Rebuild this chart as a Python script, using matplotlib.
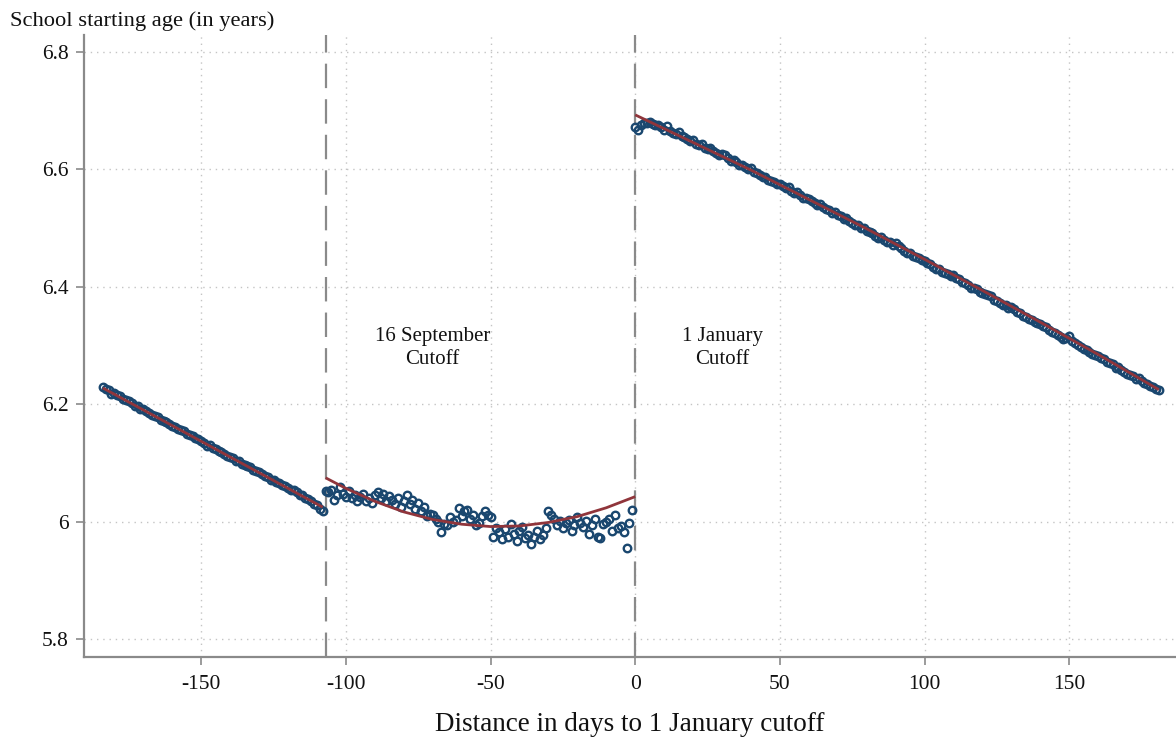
import numpy as np
import matplotlib.pyplot as plt

# ---------------- data ----------------
# Segment 1: births before the 16 September cutoff (days -184 .. -108)
seg1_first_day = -184
seg1_age = [
    6.229, 6.226, 6.224, 6.217, 6.219, 6.216, 6.214, 6.209, 6.208, 6.205,
    6.202, 6.198, 6.197, 6.193, 6.192, 6.188, 6.186, 6.182, 6.180, 6.178,
    6.174, 6.171, 6.170, 6.166, 6.164, 6.161, 6.158, 6.156, 6.154, 6.150,
    6.148, 6.146, 6.142, 6.141, 6.137, 6.134, 6.130, 6.131, 6.126, 6.124,
    6.121, 6.119, 6.115, 6.112, 6.111, 6.108, 6.103, 6.104, 6.099, 6.097,
    6.095, 6.094, 6.089, 6.086, 6.085, 6.081, 6.078, 6.077, 6.072, 6.072,
    6.068, 6.066, 6.063, 6.061, 6.057, 6.054, 6.054, 6.050, 6.046, 6.046,
    6.041, 6.039, 6.035, 6.031, 6.028, 6.022, 6.018,
]
# Segment 2: between 16 September and 1 January (days -107 .. -1)
seg2_first_day = -107
seg2_age = [
    6.052, 6.050, 6.055, 6.038, 6.046, 6.060, 6.048, 6.042, 6.052, 6.040,
    6.046, 6.035, 6.042, 6.048, 6.036, 6.040, 6.032, 6.045, 6.050, 6.041,
    6.048, 6.035, 6.044, 6.038, 6.030, 6.040, 6.026, 6.036, 6.045, 6.030,
    6.037, 6.022, 6.032, 6.018, 6.025, 6.010, 6.013, 6.012, 6.005, 6.000,
    5.983, 5.996, 5.994, 6.008, 6.000, 6.004, 6.024, 6.010, 6.018, 6.020,
    6.005, 6.012, 5.995, 5.998, 6.010, 6.018, 6.012, 6.008, 5.975, 5.990,
    5.982, 5.970, 5.988, 5.975, 5.996, 5.980, 5.968, 5.985, 5.992, 5.972,
    5.978, 5.963, 5.975, 5.985, 5.970, 5.978, 5.990, 6.018, 6.012, 6.005,
    5.995, 6.002, 5.990, 5.998, 6.004, 5.985, 5.995, 6.008, 5.998, 5.992,
    6.002, 5.980, 5.995, 6.005, 5.975, 5.973, 5.996, 6.000, 6.005, 5.985,
    6.012, 5.990, 5.993, 5.982, 5.955, 5.998, 6.020,
]
# Segment 3: after the 1 January cutoff (days 0 .. 181)
seg3_first_day = 0
seg3_age = [
    6.672, 6.668, 6.676, 6.680, 6.679, 6.681, 6.677, 6.675, 6.676, 6.672,
    6.668, 6.674, 6.665, 6.662, 6.660, 6.663, 6.657, 6.655, 6.652, 6.649,
    6.650, 6.644, 6.641, 6.643, 6.637, 6.635, 6.637, 6.631, 6.628, 6.625,
    6.626, 6.624, 6.619, 6.615, 6.616, 6.612, 6.608, 6.608, 6.604, 6.600,
    6.602, 6.596, 6.594, 6.590, 6.588, 6.588, 6.582, 6.580, 6.579, 6.575,
    6.576, 6.572, 6.568, 6.570, 6.563, 6.560, 6.561, 6.556, 6.552, 6.551,
    6.549, 6.547, 6.543, 6.540, 6.541, 6.536, 6.532, 6.531, 6.526, 6.527,
    6.522, 6.520, 6.516, 6.517, 6.512, 6.509, 6.506, 6.505, 6.500, 6.501,
    6.496, 6.493, 6.492, 6.487, 6.484, 6.485, 6.480, 6.476, 6.477, 6.472,
    6.474, 6.470, 6.466, 6.461, 6.458, 6.457, 6.453, 6.451, 6.449, 6.446,
    6.444, 6.440, 6.439, 6.434, 6.430, 6.431, 6.426, 6.423, 6.422, 6.418,
    6.420, 6.415, 6.413, 6.408, 6.406, 6.403, 6.399, 6.398, 6.396, 6.392,
    6.390, 6.388, 6.386, 6.384, 6.378, 6.376, 6.373, 6.370, 6.369, 6.364,
    6.366, 6.362, 6.358, 6.356, 6.350, 6.349, 6.346, 6.343, 6.341, 6.339,
    6.337, 6.334, 6.331, 6.326, 6.323, 6.321, 6.319, 6.315, 6.312, 6.313,
    6.316, 6.308, 6.305, 6.302, 6.298, 6.294, 6.292, 6.290, 6.285, 6.284,
    6.282, 6.279, 6.278, 6.272, 6.270, 6.268, 6.262, 6.264, 6.258, 6.255,
    6.252, 6.250, 6.248, 6.244, 6.245, 6.240, 6.236, 6.234, 6.232, 6.229,
    6.226, 6.225,
]

# Fitted lines
fit1_day = [-184, -108]
fit1_age = [6.228, 6.025]
fit2_day = [-107, -100, -90, -80, -70, -60, -50, -40, -30, -20, -10, 0]
fit2_age = [6.075, 6.057, 6.035, 6.017, 6.004, 5.996, 5.992, 5.993, 5.999, 6.009, 6.024, 6.043]
fit3_day = [0, 20, 40, 60, 80, 100, 120, 140, 160, 181]
fit3_age = [6.693, 6.646, 6.599, 6.549, 6.499, 6.447, 6.394, 6.340, 6.285, 6.225]

cutoff_days = [-107, 0]
cutoff_labels = ["16 September\nCutoff", "1 January\nCutoff"]
label_days = [-70, 30]
label_age = 6.296

x_ticks = [-150, -100, -50, 0, 50, 100, 150]
x_tick_labels = ["-150", "-100", "-50", "0", "50", "100", "150"]
y_ticks = [5.8, 6.0, 6.2, 6.4, 6.6, 6.8]
y_tick_labels = ["5.8", "6", "6.2", "6.4", "6.6", "6.8"]

# ---------------- drawing ----------------
plt.rcParams['font.family'] = ['Liberation Serif', 'DejaVu Serif']

W, H = 1176, 742
fig = plt.figure(figsize=(W / 100, H / 100), dpi=100)
fig.patch.set_facecolor('white')
left_px, bottom_px, top_px = 84, 657, 35
ax = fig.add_axes([left_px / W, 1 - bottom_px / H, 1 - left_px / W, (bottom_px - top_px) / H])

navy = '#1a476f'
maroon = '#90353b'
gray = '#8a8a8a'

for first, ages in [(seg1_first_day, seg1_age), (seg2_first_day, seg2_age), (seg3_first_day, seg3_age)]:
    days = np.arange(first, first + len(ages))
    ax.plot(days, ages, linestyle='none', marker='o', markersize=5.4,
            markerfacecolor='none', markeredgecolor=navy, markeredgewidth=1.7, zorder=3)

for d, a in [(fit1_day, fit1_age), (fit2_day, fit2_age), (fit3_day, fit3_age)]:
    ax.plot(d, a, color=maroon, linewidth=2.0, zorder=4, solid_capstyle='butt')

for c in cutoff_days:
    ax.axvline(c, color=gray, linewidth=1.6, dashes=(11, 5), zorder=2)

for txt, d in zip(cutoff_labels, label_days):
    ax.text(d, label_age, txt, ha='center', va='center', fontsize=15,
            linespacing=1.3, color='#111111')

ax.set_xlim(-190.5, 186.9)
ax.set_ylim(5.7699, 6.829)
ax.set_xticks(x_ticks)
ax.set_xticklabels(x_tick_labels, fontsize=15.5)
ax.set_yticks(y_ticks)
ax.set_yticklabels(y_tick_labels, fontsize=15.5)

ax.grid(True, color='#c4c4c4', linewidth=1.0, linestyle=(0, (1, 3.5)), zorder=0)
ax.set_axisbelow(True)

for s in ['top', 'right']:
    ax.spines[s].set_visible(False)
for s in ['left', 'bottom']:
    ax.spines[s].set_color(gray)
    ax.spines[s].set_linewidth(1.6)
ax.tick_params(axis='both', direction='out', length=6, width=1.2, color=gray,
               labelcolor='#111111')
ax.tick_params(axis='x', pad=7)
ax.tick_params(axis='y', pad=5)

fig.text(10 / W, 1 - 26 / H, "School starting age (in years)", ha='left', va='baseline',
         fontsize=16.2, color='#111111')
fig.text(630 / W, 1 - 731 / H, "Distance in days to 1 January cutoff", ha='center',
         va='baseline', fontsize=19.5, color='#111111')

fig.savefig('out.png', dpi=100, facecolor='white')
